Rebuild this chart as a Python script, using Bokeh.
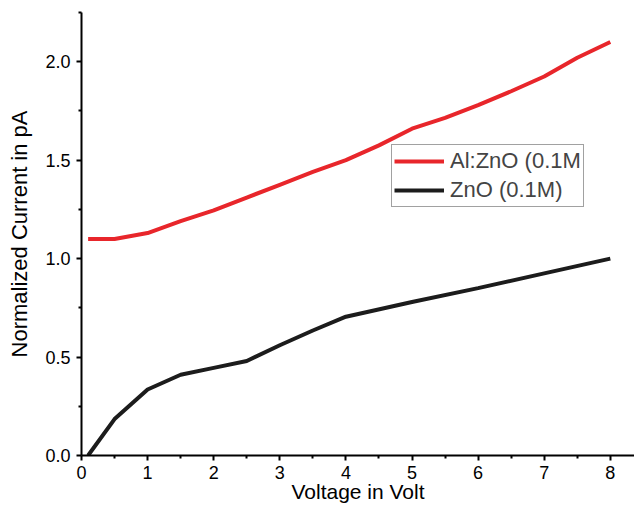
from bokeh.plotting import figure
from bokeh.models import Range1d, Legend, LegendItem, FixedTicker, CustomJSTickFormatter
from bokeh.embed import file_html
from bokeh.resources import INLINE

# Data
voltage_alzno = [0.1, 0.5, 1.0, 1.5, 2.0, 2.5, 3.0, 3.5, 4.0, 4.5, 5.0, 5.5, 6.0, 6.5, 7.0, 7.5, 8.0]
current_alzno = [1.10, 1.10, 1.13, 1.19, 1.245, 1.31, 1.375, 1.44, 1.50, 1.575, 1.66, 1.715, 1.78, 1.85, 1.925, 2.02, 2.10]

voltage_zno = [0.1, 0.5, 1.0, 1.5, 2.0, 2.5, 3.0, 3.5, 4.0, 5.0, 6.0, 7.0, 8.0]
current_zno = [0.0, 0.185, 0.335, 0.41, 0.445, 0.48, 0.56, 0.635, 0.705, 0.78, 0.85, 0.925, 1.0]

x_ticks = [0, 1, 2, 3, 4, 5, 6, 7, 8]
y_ticks = [0.0, 0.5, 1.0, 1.5, 2.0]

label_alzno = "Al:ZnO (0.1M"
label_zno = "ZnO (0.1M)"

FONT = "Liberation Sans"

p = figure(width=634, height=505, output_backend="svg", toolbar_location=None,
           x_range=Range1d(0, 8.366), y_range=Range1d(0, 2.25),
           min_border_left=81, min_border_right=0, min_border_top=12, min_border_bottom=49)

p.outline_line_color = None
p.grid.visible = False
p.background_fill_color = "white"

r1 = p.line(voltage_alzno, current_alzno, line_color="#e8262b", line_width=4)
r2 = p.line(voltage_zno, current_zno, line_color="#1c1c1c", line_width=4)

for ax in (p.xaxis[0], p.yaxis[0]):
    ax.axis_line_width = 2
    ax.axis_line_color = "black"
    ax.major_tick_line_width = 2
    ax.minor_tick_line_width = 2
    ax.major_tick_in = 0
    ax.major_tick_out = 5
    ax.minor_tick_in = 0
    ax.minor_tick_out = 3
    ax.major_label_text_font = FONT
    ax.major_label_text_font_size = "18px"
    ax.major_label_text_color = "black"
    ax.axis_label_text_font = FONT
    ax.axis_label_text_font_style = "normal"
    ax.axis_label_text_color = "black"

p.xaxis.ticker = FixedTicker(ticks=x_ticks, minor_ticks=[v + 0.5 for v in x_ticks])
p.yaxis.ticker = FixedTicker(ticks=y_ticks, minor_ticks=[v + 0.25 for v in y_ticks])
p.yaxis.formatter = CustomJSTickFormatter(code="return tick.toFixed(1);")

p.xaxis.axis_label = "Voltage in Volt"
p.xaxis.axis_label_text_font_size = "21px"
p.xaxis.axis_label_standoff = -2
p.xaxis.major_label_standoff = 5

p.yaxis.axis_label = "Normalized Current in pA"
p.yaxis.axis_label_text_font_size = "22px"
p.yaxis.axis_label_standoff = 10
p.yaxis.major_label_standoff = 6

legend = Legend(items=[LegendItem(label=label_alzno, renderers=[r1]),
                       LegendItem(label=label_zno, renderers=[r2])],
                location=(310, 248))
legend.label_text_font = FONT
legend.label_text_font_size = "22px"
legend.label_height = 28
legend.glyph_height = 28
legend.glyph_width = 50
legend.label_standoff = 6
legend.padding = 2
legend.spacing = 1
legend.margin = 0
legend.border_line_color = "#444444"
legend.border_line_width = 1.5
legend.background_fill_alpha = 1
p.add_layout(legend, "center")

open("out.html", "w").write(file_html(p, INLINE))
